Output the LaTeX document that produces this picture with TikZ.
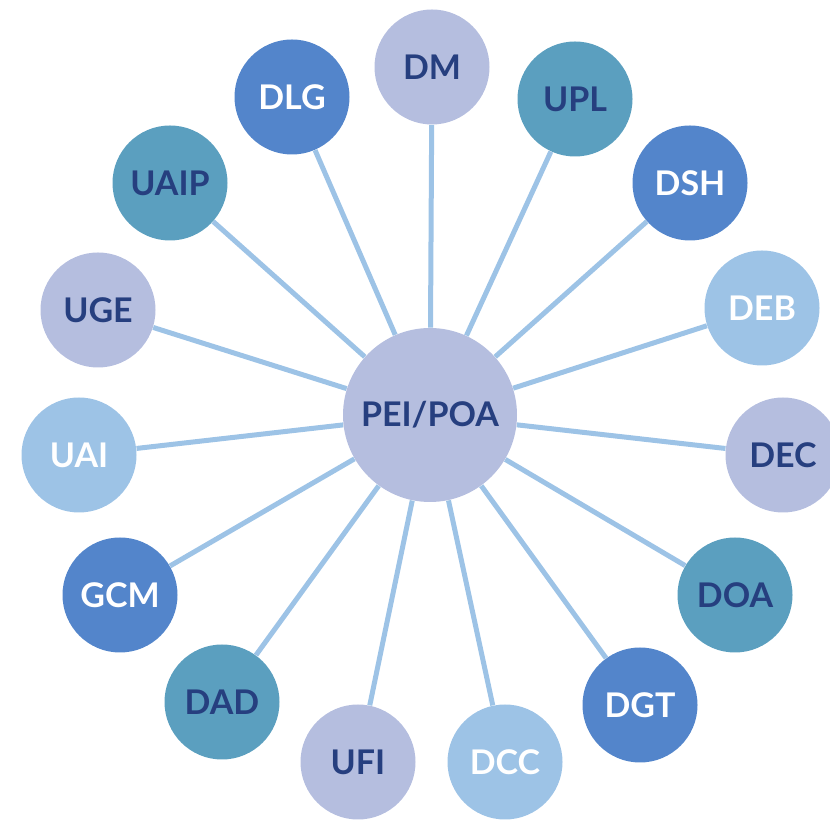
\documentclass[tikz,border=0pt]{standalone}
\usepackage{fontspec}
\setmainfont{Lato}
\definecolor{lila}{HTML}{B5BEDF}
\definecolor{petrol}{HTML}{5B9FBF}
\definecolor{mittelblau}{HTML}{5385CB}
\definecolor{hellblau}{HTML}{9DC3E6}
\definecolor{dunkelblau}{HTML}{263F7F}

\begin{document}
\begin{tikzpicture}
[x=0.5pt,y=-0.5pt,
every node/.style={circle,minimum size=57.5pt,inner sep=0pt,font=\fontsize{17}{20}\selectfont\bfseries},
lila/.style={fill=lila,text=dunkelblau},
petrol/.style={fill=petrol,text=dunkelblau},
mittel/.style={fill=mittelblau,text=white},
hell/.style={fill=hellblau,text=white},
kante/.style={draw=hellblau,line width=2.5pt},
]
\useasboundingbox (0,0) rectangle (830,822);

\node[lila,minimum size=87pt] (mitte) at (430,415) {PEI/POA};

\node[lila] (dm) at (432,67) {DM};
\node[petrol] (upl) at (575,99) {UPL};
\node[mittel] (dsh) at (690,183) {DSH};
\node[hell] (deb) at (762,308) {DEB};
\node[lila] (dec) at (783,455) {DEC};
\node[petrol] (doa) at (735,595) {DOA};
\node[mittel] (dgt) at (640,705) {DGT};
\node[hell] (dcc) at (505,762) {DCC};
\node[lila] (ufi) at (358,762) {UFI};
\node[petrol] (dad) at (222,702) {DAD};
\node[mittel] (gcm) at (120,595) {GCM};
\node[hell] (uai) at (79,455) {UAI};
\node[lila] (uge) at (98,310) {UGE};
\node[petrol] (uaip) at (170,183) {UAIP};
\node[mittel] (dlg) at (292,97) {DLG};

\foreach \n in {dm,upl,dsh,deb,dec,doa,dgt,dcc,ufi,dad,gcm,uai,uge,uaip,dlg}
  \draw[kante] (mitte) -- (\n);
\end{tikzpicture}
\end{document}
